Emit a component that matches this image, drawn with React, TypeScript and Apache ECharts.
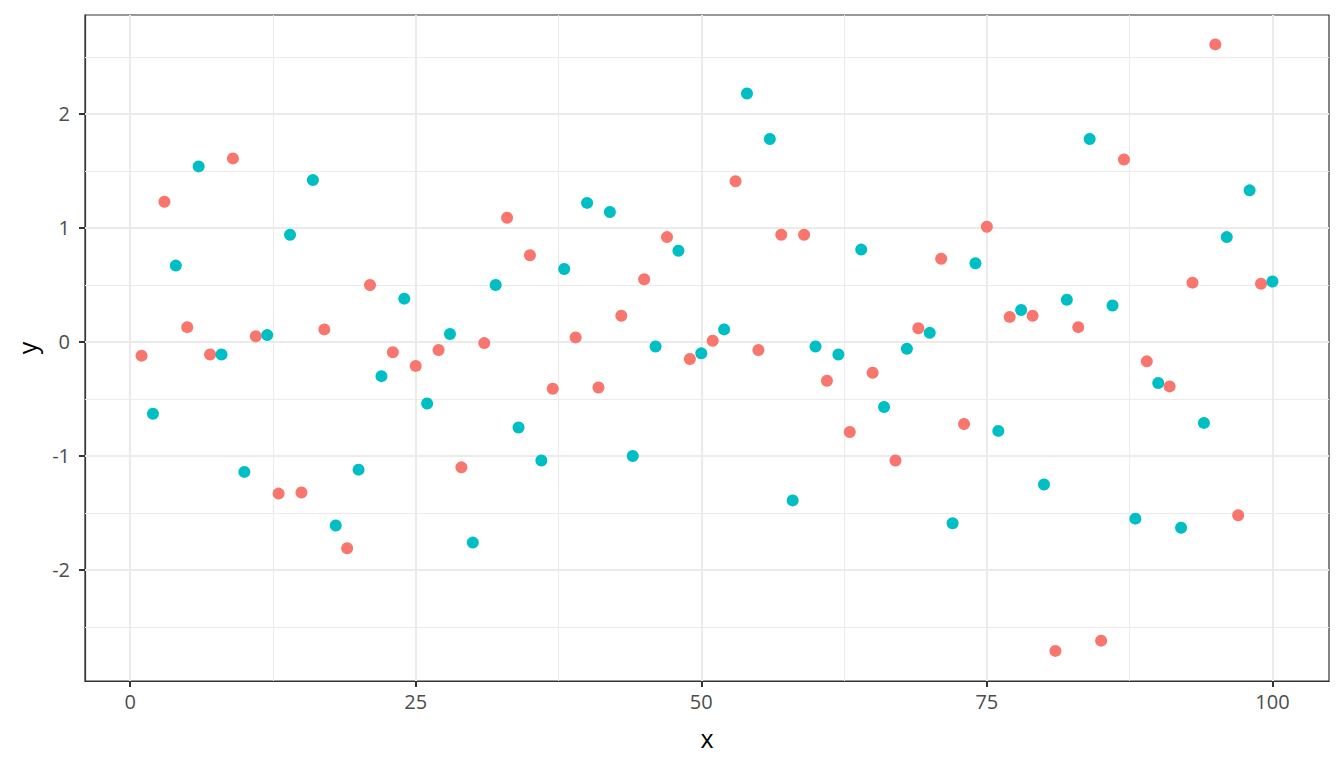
import React, { useEffect, useRef } from "react";
import * as echarts from "echarts";

const xOdd = [1,3,5,7,9,11,13,15,17,19,21,23,25,27,29,31,33,35,37,39,41,43,45,47,49,51,53,55,57,59,61,63,65,67,69,71,73,75,77,79,81,83,85,87,89,91,93,95,97,99];
const yOdd = [-0.12,1.23,0.13,-0.11,1.61,0.05,-1.33,-1.32,0.11,-1.81,0.50,-0.09,-0.21,-0.07,-1.10,-0.01,1.09,0.76,-0.41,0.04,-0.40,0.23,0.55,0.92,-0.15,0.01,1.41,-0.07,0.94,0.94,-0.34,-0.79,-0.27,-1.04,0.12,0.73,-0.72,1.01,0.22,0.23,-2.71,0.13,-2.62,1.60,-0.17,-0.39,0.52,2.61,-1.52,0.51];
const xEven = [2,4,6,8,10,12,14,16,18,20,22,24,26,28,30,32,34,36,38,40,42,44,46,48,50,52,54,56,58,60,62,64,66,68,70,72,74,76,78,80,82,84,86,88,90,92,94,96,98,100];
const yEven = [-0.63,0.67,1.54,-0.11,-1.14,0.06,0.94,1.42,-1.61,-1.12,-0.30,0.38,-0.54,0.07,-1.76,0.50,-0.75,-1.04,0.64,1.22,1.14,-1.00,-0.04,0.80,-0.10,0.11,2.18,1.78,-1.39,-0.04,-0.11,0.81,-0.57,-0.06,0.08,-1.59,0.69,-0.78,0.28,-1.25,0.37,1.78,0.32,-1.55,-0.36,-1.63,-0.71,0.92,1.33,0.53];

const xMajor = [0, 25, 50, 75, 100];
const xMinor = [12.5, 37.5, 62.5, 87.5];
const yMajor = [-2, -1, 0, 1, 2];
const yMinor = [-2.5, -1.5, -0.5, 0.5, 1.5, 2.5];

const FONT = "Open Sans";

export default function App() {
  const ref = useRef<HTMLDivElement>(null);
  useEffect(() => {
    const chart = echarts.init(ref.current!, null, { renderer: "svg" });
    const gridData: any[] = [];
    const minorStyle = { width: 1, color: "#EBEBEB", type: "solid" };
    const majorStyle = { width: 2, color: "#EBEBEB", type: "solid" };
    xMinor.forEach((v) => gridData.push({ xAxis: v, lineStyle: minorStyle }));
    yMinor.forEach((v) => gridData.push({ yAxis: v, lineStyle: minorStyle }));
    xMajor.forEach((v) => gridData.push({ xAxis: v, lineStyle: majorStyle }));
    yMajor.forEach((v) => gridData.push({ yAxis: v, lineStyle: majorStyle }));
    chart.setOption({
      animation: false,
      backgroundColor: "#ffffff",
      grid: {
        left: 85,
        right: 15,
        top: 15,
        bottom: 87,
        show: true,
        borderColor: "#333333",
        borderWidth: 1.2,
        backgroundColor: "transparent",
      },
      xAxis: {
        type: "value",
        min: -3.95,
        max: 104.95,
        name: "x",
        nameLocation: "middle",
        nameGap: 44,
        nameTextStyle: { fontFamily: FONT, fontSize: 25, color: "#000000" },
        axisLine: { show: true, onZero: false, lineStyle: { color: "#333333", width: 1.2 } },
        splitLine: { show: false },
        axisTick: {
          show: true,
          customValues: xMajor,
          length: 6,
          lineStyle: { color: "#333333", width: 2 },
        },
        axisLabel: {
          customValues: xMajor,
          margin: 10,
          fontFamily: FONT,
          fontSize: 20,
          color: "#4D4D4D",
        },
      },
      yAxis: {
        type: "value",
        min: -2.974,
        max: 2.868,
        name: "y",
        nameLocation: "middle",
        nameGap: 46,
        nameRotate: 90,
        nameTextStyle: { fontFamily: FONT, fontSize: 25, color: "#000000" },
        axisLine: { show: true, onZero: false, lineStyle: { color: "#333333", width: 1.2 } },
        splitLine: { show: false },
        axisTick: {
          show: true,
          customValues: yMajor,
          length: 6,
          lineStyle: { color: "#333333", width: 2 },
        },
        axisLabel: {
          customValues: yMajor,
          margin: 15,
          fontFamily: FONT,
          fontSize: 20,
          color: "#4D4D4D",
        },
      },
      series: [
        {
          type: "scatter",
          data: [],
          z: 1,
          silent: true,
          markLine: {
            silent: true,
            z: 1,
            symbol: ["none", "none"],
            label: { show: false },
            emphasis: { disabled: true },
            animation: false,
            data: gridData,
          },
        },
        {
          type: "scatter",
          name: "odd",
          z: 10,
          symbol: "circle",
          symbolSize: 12,
          itemStyle: { color: "#F8766D", opacity: 1 },
          data: xOdd.map((x, i) => [x, yOdd[i]]),
        },
        {
          type: "scatter",
          name: "even",
          z: 10,
          symbol: "circle",
          symbolSize: 12,
          itemStyle: { color: "#00BFC4", opacity: 1 },
          data: xEven.map((x, i) => [x, yEven[i]]),
        },
      ],
    });
    return () => chart.dispose();
  }, []);
  return (
    <div
      ref={ref}
      style={{ position: "fixed", left: 0, top: 0, width: 1344, height: 768, background: "#fff" }}
    />
  );
}
